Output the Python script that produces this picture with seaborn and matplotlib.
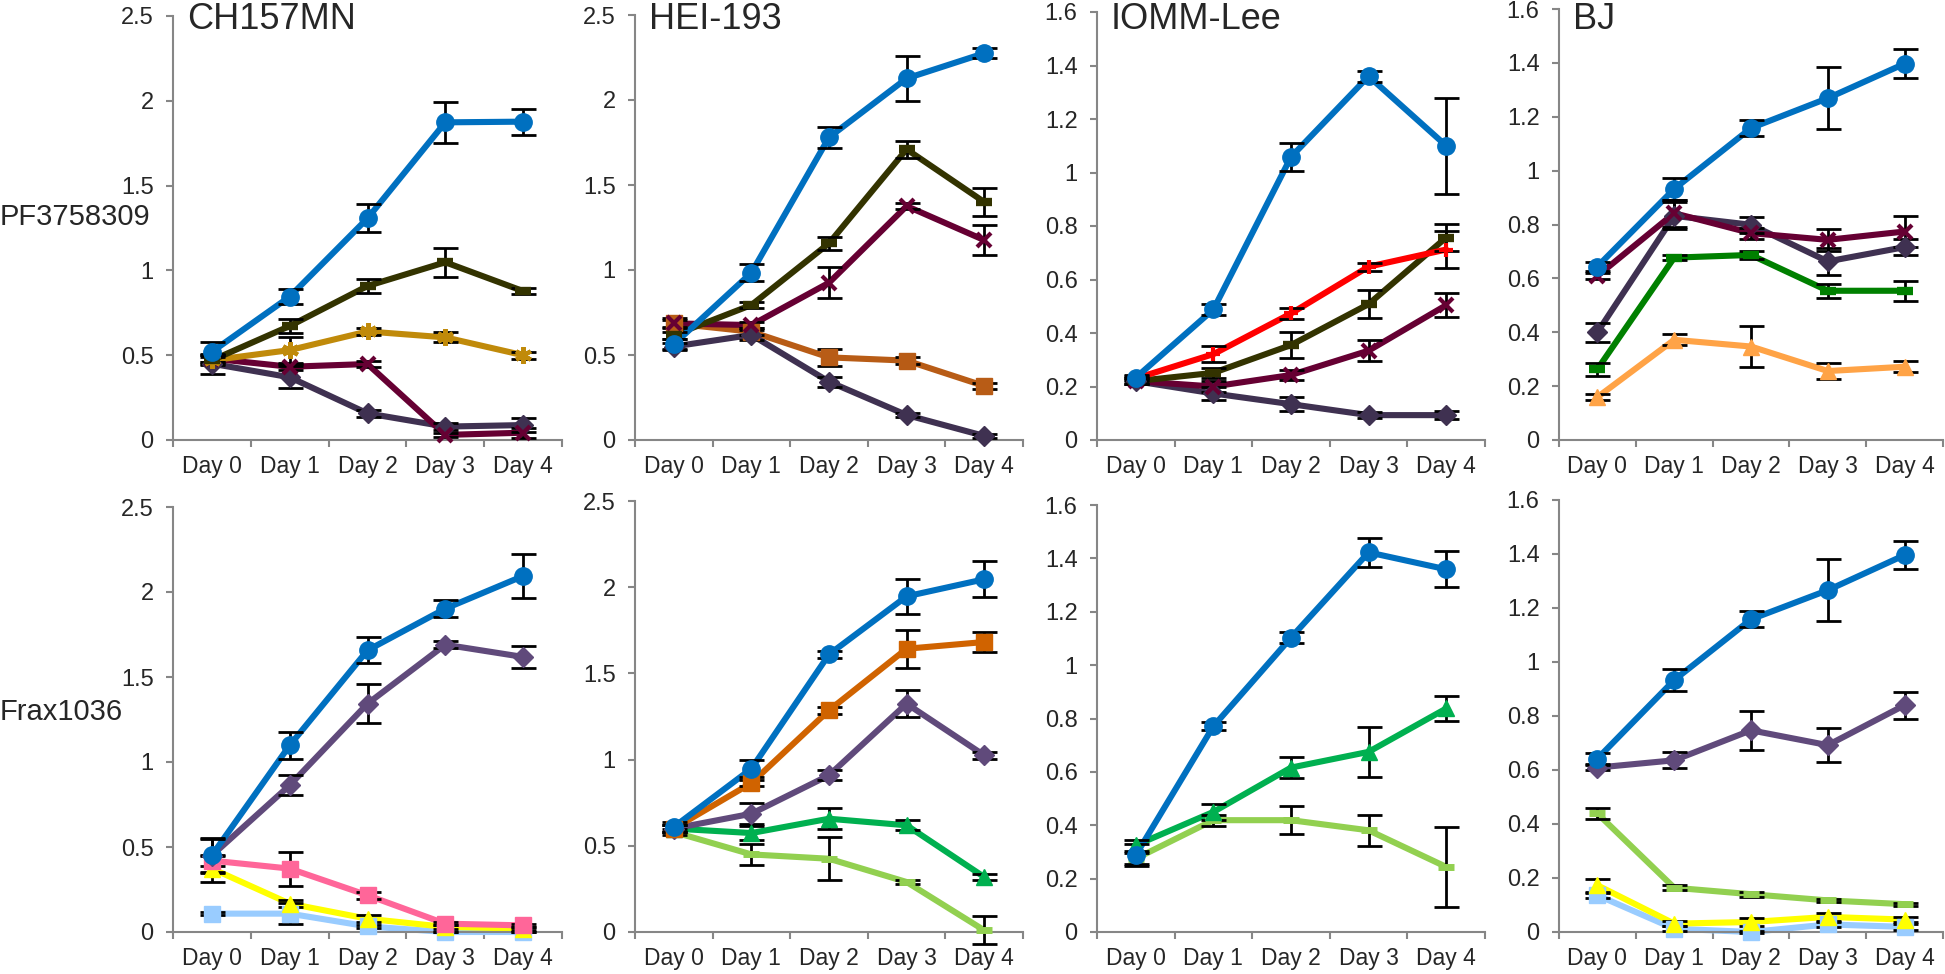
import numpy as np
import matplotlib
matplotlib.use("Agg")
import matplotlib.pyplot as plt
import seaborn as sns
from matplotlib.ticker import MultipleLocator, FixedLocator, FuncFormatter

days = ["Day 0", "Day 1", "Day 2", "Day 3", "Day 4"]
cell_lines = ["CH157MN", "HEI-193", "IOMM-Lee", "BJ"]
drugs = ["PF3758309", "Frax1036"]

# each panel: series keys (drawing order, blue last), means and error bars
ch_pf_series = ["purple_dk", "maroon", "gold", "olive", "blue"]
ch_pf_means = [[0.45, 0.37, 0.157, 0.079, 0.088],
               [0.48, 0.432, 0.448, 0.03, 0.043],
               [0.47, 0.53, 0.64, 0.605, 0.50],
               [0.47, 0.672, 0.908, 1.048, 0.878],
               [0.52, 0.845, 1.307, 1.873, 1.877]]
ch_pf_errs = [[0.06, 0.065, 0.02, 0.02, 0.04],
              [0.02, 0.02, 0.02, 0.01, 0.03],
              [0.02, 0.08, 0.02, 0.03, 0.02],
              [0.03, 0.04, 0.04, 0.087, 0.02],
              [0.06, 0.046, 0.083, 0.12, 0.077]]

hei_pf_series = ["orange_br", "purple_dk", "maroon", "olive", "blue"]
hei_pf_means = [[0.686, 0.637, 0.486, 0.467, 0.318],
                [0.55, 0.618, 0.343, 0.147, 0.024],
                [0.686, 0.676, 0.925, 1.376, 1.176],
                [0.617, 0.794, 1.157, 1.71, 1.40],
                [0.563, 0.984, 1.78, 2.127, 2.275]]
hei_pf_errs = [[0.03, 0.02, 0.05, 0.02, 0.02],
               [0.02, 0.03, 0.03, 0.01, 0.01],
               [0.02, 0.02, 0.09, 0.02, 0.09],
               [0.02, 0.02, 0.04, 0.05, 0.085],
               [0.03, 0.05, 0.06, 0.13, 0.03]]

iomm_pf_series = ["purple_dk", "maroon", "olive", "red", "blue"]
iomm_pf_means = [[0.22, 0.174, 0.134, 0.093, 0.093],
                 [0.22, 0.20, 0.243, 0.334, 0.504],
                 [0.22, 0.251, 0.355, 0.508, 0.757],
                 [0.23, 0.321, 0.473, 0.648, 0.712],
                 [0.233, 0.488, 1.058, 1.36, 1.10]]
iomm_pf_errs = [[0.01, 0.025, 0.025, 0.01, 0.015],
                [0.01, 0.02, 0.02, 0.04, 0.046],
                [0.01, 0.02, 0.048, 0.052, 0.05],
                [0.01, 0.03, 0.02, 0.015, 0.07],
                [0.01, 0.02, 0.053, 0.02, 0.18]]

bj_pf_series = ["orange_lt", "green", "purple_dk", "maroon", "blue"]
bj_pf_means = [[0.159, 0.372, 0.347, 0.256, 0.272],
               [0.263, 0.677, 0.687, 0.554, 0.554],
               [0.40, 0.832, 0.799, 0.663, 0.716],
               [0.609, 0.842, 0.768, 0.743, 0.774],
               [0.644, 0.932, 1.158, 1.269, 1.397]]
bj_pf_errs = [[0.01, 0.02, 0.075, 0.03, 0.02],
              [0.024, 0.01, 0.015, 0.025, 0.037],
              [0.036, 0.05, 0.03, 0.05, 0.03],
              [0.01, 0.05, 0.02, 0.04, 0.057],
              [0.015, 0.04, 0.03, 0.115, 0.053]]

ch_fx_series = ["lblue", "yellow", "pink", "purple", "blue"]
ch_fx_means = [[0.108, 0.108, 0.033, 0.0, 0.0],
               [0.373, 0.167, 0.078, 0.03, 0.02],
               [0.42, 0.373, 0.216, 0.049, 0.039],
               [0.45, 0.863, 1.343, 1.69, 1.618],
               [0.451, 1.098, 1.657, 1.902, 2.094]]
ch_fx_errs = [[0.01, 0.06, 0.01, 0.0, 0.0],
              [0.08, 0.02, 0.02, 0.01, 0.01],
              [0.03, 0.1, 0.02, 0.01, 0.01],
              [0.1, 0.06, 0.113, 0.02, 0.064],
              [0.1, 0.08, 0.077, 0.05, 0.13]]

hei_fx_series = ["lgreen", "green2", "purple", "orange", "blue"]
hei_fx_means = [[0.58, 0.45, 0.425, 0.29, 0.01],
                [0.6, 0.574, 0.657, 0.619, 0.319],
                [0.6, 0.686, 0.909, 1.324, 1.025],
                [0.6, 0.864, 1.286, 1.643, 1.682],
                [0.609, 0.947, 1.61, 1.947, 2.046]]
hei_fx_errs = [[0.02, 0.06, 0.126, 0.01, 0.08],
               [0.02, 0.04, 0.06, 0.03, 0.02],
               [0.02, 0.06, 0.03, 0.077, 0.02],
               [0.02, 0.02, 0.02, 0.11, 0.06],
               [0.03, 0.05, 0.02, 0.1, 0.105]]

iomm_fx_series = ["lgreen", "green2", "blue"]
iomm_fx_means = [[0.275, 0.419, 0.419, 0.381, 0.244],
                 [0.325, 0.45, 0.616, 0.675, 0.8375],
                 [0.288, 0.771, 1.103, 1.4225, 1.359]]
iomm_fx_errs = [[0.02, 0.02, 0.052, 0.057, 0.15],
                [0.02, 0.03, 0.04, 0.094, 0.047],
                [0.04, 0.015, 0.02, 0.055, 0.067]]

bj_fx_series = ["lblue", "yellow", "lgreen", "purple", "blue"]
bj_fx_means = [[0.136, 0.012, 0.0, 0.028, 0.019],
               [0.173, 0.031, 0.037, 0.056, 0.046],
               [0.439, 0.164, 0.14, 0.117, 0.103],
               [0.609, 0.636, 0.747, 0.692, 0.84],
               [0.642, 0.933, 1.158, 1.266, 1.396]]
bj_fx_errs = [[0.01, 0.01, 0.005, 0.01, 0.01],
              [0.025, 0.01, 0.015, 0.015, 0.01],
              [0.02, 0.01, 0.01, 0.005, 0.005],
              [0.01, 0.03, 0.073, 0.062, 0.05],
              [0.02, 0.04, 0.03, 0.115, 0.053]]

y_max = [2.5, 2.5, 1.6, 1.6]
y_step = [0.5, 0.5, 0.2, 0.2]

# colour, marker, marker size, marker edge width
styles = {
    "blue": ("#0070C0", "o", 12.5, 1),
    "olive": ("#333300", "_", 12, 6),
    "maroon": ("#660033", "x", 10, 3),
    "purple_dk": ("#3F3151", "D", 10, 1),
    "purple": ("#604A7B", "D", 10, 1),
    "gold": ("#C08A0A", (6, 2, 0), 12, 3),
    "orange_br": ("#B85C16", "s", 11, 1),
    "orange": ("#D06300", "s", 11, 1),
    "orange_lt": ("#FFA346", "^", 11.5, 1),
    "green": ("#008000", "_", 12, 6),
    "green2": ("#00B050", "^", 11.5, 1),
    "lgreen": ("#92D050", "_", 11, 5),
    "red": ("#FF0000", "+", 10, 3),
    "pink": ("#FF6699", "s", 11, 1),
    "yellow": ("#FFFF00", "^", 11.5, 1),
    "lblue": ("#99CCFF", "s", 11, 1),
}

panels = [
    [(ch_pf_series, ch_pf_means, ch_pf_errs), (hei_pf_series, hei_pf_means, hei_pf_errs),
     (iomm_pf_series, iomm_pf_means, iomm_pf_errs), (bj_pf_series, bj_pf_means, bj_pf_errs)],
    [(ch_fx_series, ch_fx_means, ch_fx_errs), (hei_fx_series, hei_fx_means, hei_fx_errs),
     (iomm_fx_series, iomm_fx_means, iomm_fx_errs), (bj_fx_series, bj_fx_means, bj_fx_errs)],
]

sns.set_theme(style="white")
plt.rcParams['font.family'] = ['Liberation Sans', 'DejaVu Sans']

W, H = 1945, 974
fig = plt.figure(figsize=(W / 100, H / 100), dpi=100)

lefts = [173, 635, 1097, 1559]
widths = [389, 388, 388, 384]
tops = [[16, 15, 12, 9], [507, 501, 505, 500]]
bottoms = [440, 932]
axis_grey = "#868686"
x = np.arange(len(days))

for r in range(2):
    for c in range(4):
        top = tops[r][c]
        ax = fig.add_axes([lefts[c] / W, 1 - bottoms[r] / H, widths[c] / W, (bottoms[r] - top) / H])
        keys, means, errs = panels[r][c]
        # lines first, then error bars, then markers on top (Excel order)
        for k, m in zip(keys, means):
            col = styles[k][0]
            sns.lineplot(x=x, y=m, ax=ax, color=col, linewidth=4.4, zorder=2)
        for m, e in zip(means, errs):
            ax.errorbar(x, m, yerr=e, fmt="none", ecolor="black", elinewidth=2,
                        capsize=9, capthick=2, zorder=3)
        for k, m in zip(keys, means):
            col, mk, ms, mew = styles[k]
            sns.lineplot(x=x, y=m, ax=ax, color=col, linewidth=0, marker=mk,
                         markersize=ms, markeredgewidth=mew, markeredgecolor=col,
                         markerfacecolor=col, zorder=4)
        ax.set_xlim(-0.5, len(days) - 0.5)
        ax.set_ylim(0, y_max[c])
        ax.yaxis.set_major_locator(MultipleLocator(y_step[c]))
        ax.yaxis.set_major_formatter(FuncFormatter(lambda v, p: f"{v:g}"))
        ax.set_xticks(x)
        ax.set_xticklabels(days)
        ax.xaxis.set_minor_locator(FixedLocator(np.arange(len(days) + 1) - 0.5))
        ax.tick_params(axis="x", which="major", length=0, pad=11, labelsize=16.5)
        ax.tick_params(axis="x", which="minor", length=5, width=1.5, color=axis_grey, direction="out", bottom=True)
        ax.tick_params(axis="y", which="major", length=5, width=1.5, color=axis_grey, direction="out",
                       left=True, pad=9, labelsize=17)
        for s in ["top", "right"]:
            ax.spines[s].set_visible(False)
        for s in ["left", "bottom"]:
            ax.spines[s].set_color(axis_grey)
            ax.spines[s].set_linewidth(1.5)
        ax.set_xlabel("")
        ax.set_ylabel("")
        ax.grid(False)
        ax.patch.set_alpha(0)
        for art in ax.lines + ax.collections:
            art.set_clip_on(False)
        if r == 0:
            fig.text((lefts[c] + 14) / W, 1 - 29 / H, cell_lines[c], fontsize=26,
                     ha="left", va="baseline")

fig.text(0, 1 - 225 / H, drugs[0], fontsize=21, ha="left", va="baseline")
fig.text(0, 1 - 720 / H, drugs[1], fontsize=21, ha="left", va="baseline")

fig.savefig("out.png", dpi=100, facecolor="white")
